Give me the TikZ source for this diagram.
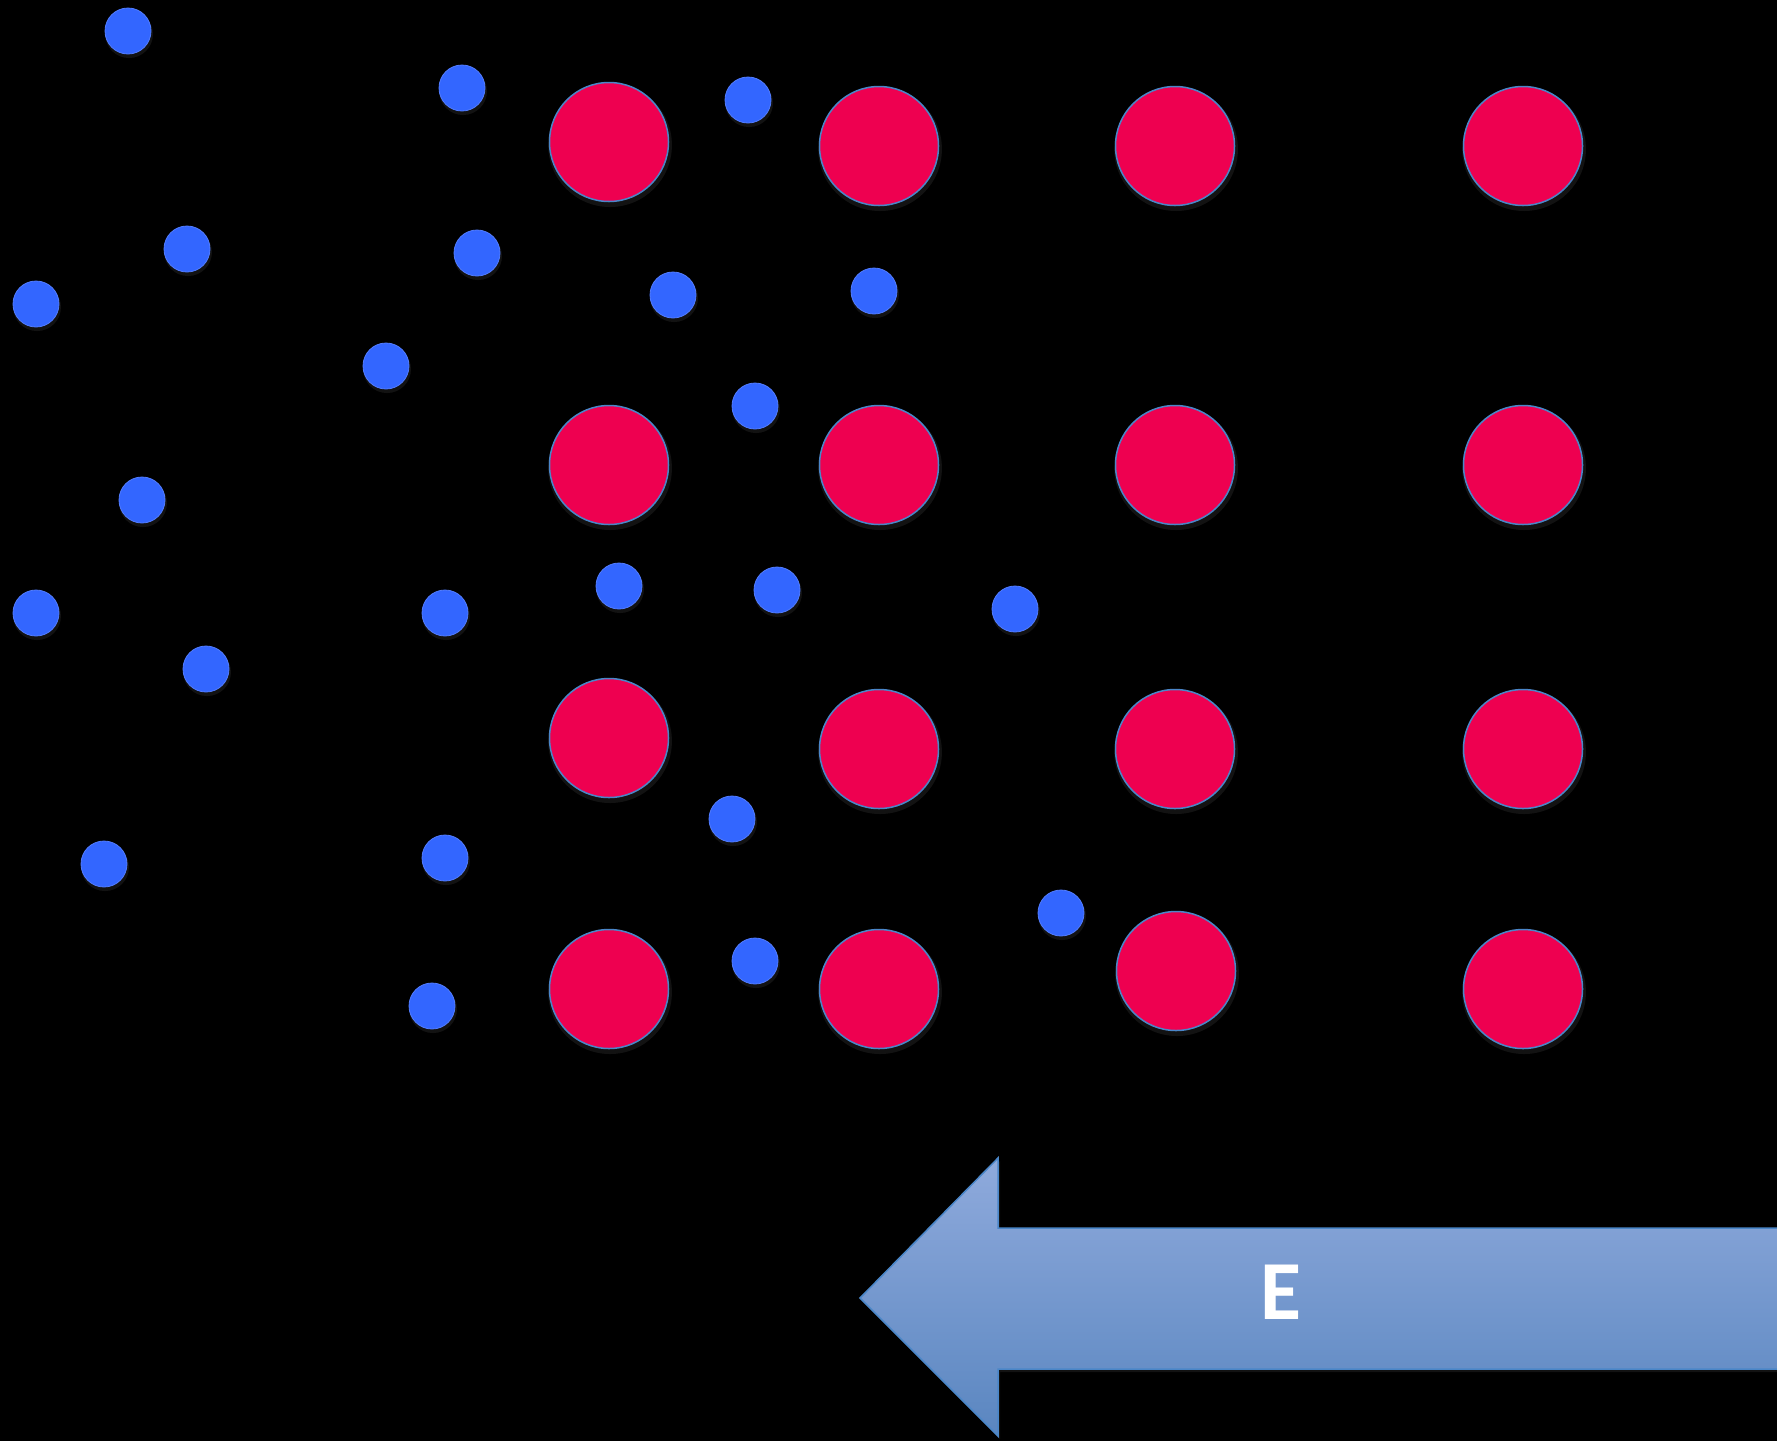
\documentclass[tikz,border=0pt]{standalone}
\usepackage{fontspec}
\newfontfamily\carlito{Carlito}
\usetikzlibrary{shadows}
\definecolor{ionred}{HTML}{EE0050}
\definecolor{edgeblue}{HTML}{4A86C8}
\definecolor{eblue}{HTML}{3366FF}
\definecolor{arrtop}{HTML}{8FAADC}
\definecolor{arrbot}{HTML}{5A86C0}
\begin{document}
\begin{tikzpicture}[x=1pt,y=-1pt,
  glow/.style={drop shadow={shadow xshift=1pt,shadow yshift=-3pt,shadow scale=1.04,fill=white,opacity=0.07}},
  ion/.style={circle,minimum size=119pt,inner sep=0pt,fill=ionred,draw=edgeblue,line width=1.5pt,glow},
  electron/.style={circle,minimum size=46pt,inner sep=0pt,fill=eblue,draw=eblue!85!white,line width=0.8pt,glow},
  label/.style={text=white,font=\carlito\bfseries\fontsize{84}{84}\selectfont}]
\fill[black] (0,0) rectangle (1777,1441);
\useasboundingbox (0,0) rectangle (1777,1441);
% ions
\node[ion] (r11) at (609,142) {};
\node[ion] (r12) at (879,146) {};
\node[ion] (r13) at (1175,146) {};
\node[ion] (r14) at (1523,146) {};
\node[ion] (r21) at (609,465) {};
\node[ion] (r22) at (879,465) {};
\node[ion] (r23) at (1175,465) {};
\node[ion] (r24) at (1523,465) {};
\node[ion] (r31) at (609,738) {};
\node[ion] (r32) at (879,749) {};
\node[ion] (r33) at (1175,749) {};
\node[ion] (r34) at (1523,749) {};
\node[ion] (r41) at (609,989) {};
\node[ion] (r42) at (879,989) {};
\node[ion] (r43) at (1176,971) {};
\node[ion] (r44) at (1523,989) {};
% electrons
\node[electron] (e1) at (128,31) {};
\node[electron] (e2) at (462,88) {};
\node[electron] (e3) at (748,100) {};
\node[electron] (e4) at (187,249) {};
\node[electron] (e5) at (36,304) {};
\node[electron] (e6) at (477,253) {};
\node[electron] (e7) at (673,295) {};
\node[electron] (e8) at (874,291) {};
\node[electron] (e9) at (386,366) {};
\node[electron] (e10) at (755,406) {};
\node[electron] (e11) at (142,500) {};
\node[electron] (e12) at (36,613) {};
\node[electron] (e13) at (445,613) {};
\node[electron] (e14) at (619,586) {};
\node[electron] (e15) at (777,590) {};
\node[electron] (e16) at (1015,609) {};
\node[electron] (e17) at (206,669) {};
\node[electron] (e18) at (732,819) {};
\node[electron] (e19) at (104,864) {};
\node[electron] (e20) at (445,858) {};
\node[electron] (e21) at (1061,913) {};
\node[electron] (e22) at (755,961) {};
\node[electron] (e23) at (432,1006) {};
% field arrow
\path[top color=arrtop,bottom color=arrbot,draw=edgeblue,line width=1.5pt,
  drop shadow={shadow xshift=2pt,shadow yshift=-3pt,fill=white,opacity=0.07}]
  (1790,1228) -- (998,1228) -- (998,1158) -- (860,1298) -- (998,1436)
  -- (998,1369) -- (1790,1369) -- cycle;
\node[label] (E) at (1281,1292) {E};
\end{tikzpicture}
\end{document}
